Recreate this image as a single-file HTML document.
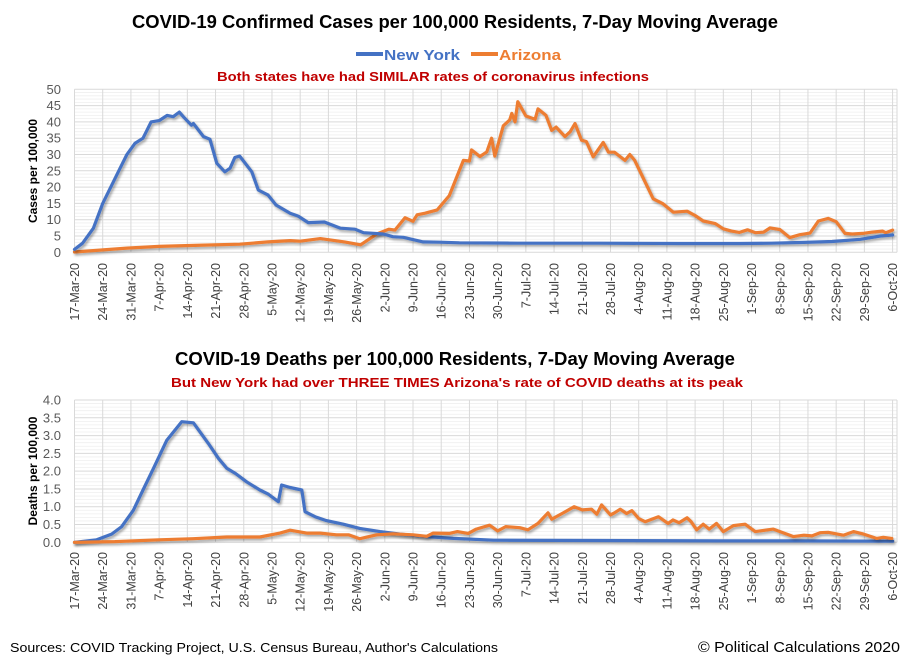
<!DOCTYPE html>
<html><head><meta charset="utf-8"><style>
html,body{margin:0;padding:0;background:#fff;}
svg{display:block;font-family:"Liberation Sans",sans-serif;}
</style></head><body>
<svg id="chart" width="910" height="661" viewBox="0 0 910 661" xmlns="http://www.w3.org/2000/svg">
<defs><filter id="sh" x="-5%" y="-5%" width="110%" height="120%"><feDropShadow dx="1.5" dy="2" stdDeviation="1.2" flood-color="#000" flood-opacity="0.35"/></filter></defs>
<text x="455" y="28" text-anchor="middle" font-size="18" font-weight="bold" fill="#000" textLength="646" lengthAdjust="spacingAndGlyphs">COVID-19 Confirmed Cases per 100,000 Residents, 7-Day Moving Average</text>
<g>
<line x1="356" y1="54" x2="383" y2="54" stroke="#4472C4" stroke-width="4"/>
<text x="384" y="60" font-size="15" font-weight="bold" fill="#4472C4" textLength="76" lengthAdjust="spacingAndGlyphs">New York</text>
<line x1="471" y1="54" x2="498" y2="54" stroke="#ED7D31" stroke-width="4"/>
<text x="499" y="60" font-size="15" font-weight="bold" fill="#ED7D31" textLength="62" lengthAdjust="spacingAndGlyphs">Arizona</text>
</g>
<text x="433" y="81" text-anchor="middle" font-size="13" font-weight="bold" fill="#C00000" textLength="432" lengthAdjust="spacingAndGlyphs">Both states have had SIMILAR rates of coronavirus infections</text>
<text x="455" y="365" text-anchor="middle" font-size="18" font-weight="bold" fill="#000" textLength="560" lengthAdjust="spacingAndGlyphs">COVID-19 Deaths per 100,000 Residents, 7-Day Moving Average</text>
<text x="457" y="387" text-anchor="middle" font-size="13" font-weight="bold" fill="#C00000" textLength="572" lengthAdjust="spacingAndGlyphs">But New York had over THREE TIMES Arizona's rate of COVID deaths at its peak</text>
<text transform="translate(37,171) rotate(-90)" text-anchor="middle" font-size="12" font-weight="bold" fill="#000">Cases per 100,000</text>
<text transform="translate(37,471) rotate(-90)" text-anchor="middle" font-size="12" font-weight="bold" fill="#000">Deaths per 100,000</text>
<text x="10" y="652" font-size="13" fill="#000" textLength="488" lengthAdjust="spacingAndGlyphs">Sources: COVID Tracking Project, U.S. Census Bureau, Author's Calculations</text>
<text x="900" y="652" text-anchor="end" font-size="15" fill="#000" textLength="202" lengthAdjust="spacingAndGlyphs">© Political Calculations 2020</text>
<g id="top"></g>
<g id="bot"></g>
</svg>
<script>
// x tick labels (every 7 days from 17-Mar-20)
const dateLabels = ["17-Mar-20","24-Mar-20","31-Mar-20","7-Apr-20","14-Apr-20","21-Apr-20","28-Apr-20","5-May-20","12-May-20","19-May-20","26-May-20","2-Jun-20","9-Jun-20","16-Jun-20","23-Jun-20","30-Jun-20","7-Jul-20","14-Jul-20","21-Jul-20","28-Jul-20","4-Aug-20","11-Aug-20","18-Aug-20","25-Aug-20","1-Sep-20","8-Sep-20","15-Sep-20","22-Sep-20","29-Sep-20","6-Oct-20"];
const casesTicks = [0,5,10,15,20,25,30,35,40,45,50];
const deathsTicks = ["0.0","0.5","1.0","1.5","2.0","2.5","3.0","3.5","4.0"];
// days since 17-Mar-20
const nyCasesDays = [0,2,4.7,7,11,13,15,17,19,21,23,24.5,26,27,29,29.5,32,33.6,35.3,37.3,38.6,39.8,41,44,45.6,48,50,53.5,55.5,58,62,66,69.6,71.7,76.6,79,81.6,86.5,90.6,95.5,110,130,150,165,173,180,188,195,200,203];
const nyCasesVals = [0.9,2.8,7.4,15,25,30,33.4,35,40,40.4,42,41.6,43,41.6,39,39.5,35.5,34.7,27.3,24.7,25.8,29.1,29.5,24.7,19.1,17.6,14.5,12,11.1,9.1,9.3,7.4,7.1,6,5.6,4.8,4.6,3.2,3.1,2.9,2.8,2.8,2.7,2.7,2.8,3.0,3.3,4.0,5.0,5.3];
const azCasesDays = [0,13,21,32,41,48,53.5,56,61,67,71,75,78,79.5,82,84,85,87,90,93,96.5,98,98.5,100.6,102.3,103.5,104.3,106.4,108,108.5,109.3,110,112,114.3,115,117,118.4,119.5,121.7,123,124.2,125.8,127,128.7,131.2,132.5,134,136.6,137.8,139,141,143.6,146,148.6,152,154,156,159,161,163,165,167,169,171,172.6,175,177.5,180,182.5,184.6,187,189,191.2,193,195.6,198,200.5,201.3,203];
const azCasesVals = [0.1,1.3,1.8,2.2,2.5,3.2,3.6,3.4,4.2,3.2,2.3,5.6,7.1,6.8,10.6,9.5,11.5,12,13,17.4,28.2,28,31.4,29.4,30.8,35,29.5,38.8,40.6,42.6,40,46.2,41.8,40.8,44,42,37.4,38.4,35.5,37,39.5,34.4,34,29.3,33.7,30.7,30.7,28.2,30,28.2,23.1,16.4,14.9,12.3,12.6,11.3,9.6,8.8,7.2,6.5,6.1,6.9,6.0,6.2,7.5,7.0,4.5,5.4,5.9,9.6,10.4,9.4,5.8,5.6,5.8,6.2,6.5,6.0,6.8];
const nyDeathsDays = [0,5.5,9.2,11.7,14.6,17,19.6,22.9,26.6,29.5,33.2,35.7,37.8,40,42.7,46,48,50.6,51.4,53.5,56.4,57.2,59.7,62.5,66.7,70.8,75.8,80.8,87.4,94,104,130,160,180,203];
const nyDeathsVals = [0,0.07,0.23,0.44,0.9,1.47,2.08,2.87,3.39,3.36,2.78,2.36,2.08,1.93,1.7,1.47,1.36,1.14,1.61,1.54,1.47,0.86,0.72,0.61,0.51,0.39,0.3,0.23,0.16,0.11,0.06,0.05,0.04,0.04,0.03];
const azDeathsDays = [0,10,21,29.5,37.8,46,51,53.5,57.6,61,65,68,70.8,75,79,84,87.4,89,93,95,97.7,99.7,103,105,107,110.5,112.5,115,117.5,118.4,121,124,126,128.3,129.6,130.8,133,134,135.4,137,138.3,140,141.6,144.9,147.3,148.5,150,152,153,154.4,156,157.5,159.3,161,163.5,166.4,168.9,173.4,178.4,181,183,185,187,190.8,193.3,195.8,199,200.7,202.8];
const azDeathsVals = [0,0.02,0.07,0.1,0.15,0.15,0.26,0.34,0.26,0.26,0.21,0.21,0.1,0.21,0.24,0.21,0.17,0.26,0.25,0.3,0.25,0.37,0.48,0.32,0.44,0.41,0.35,0.53,0.83,0.65,0.81,1.0,0.91,0.93,0.79,1.05,0.77,0.83,0.93,0.81,0.89,0.67,0.58,0.72,0.53,0.63,0.55,0.69,0.58,0.35,0.51,0.37,0.53,0.30,0.47,0.51,0.30,0.37,0.16,0.2,0.18,0.27,0.28,0.2,0.30,0.23,0.11,0.14,0.11];

const NS="http://www.w3.org/2000/svg";
const X0=74.5, X1=897, DAYW=4.03;
const xScale=d=>X0+d*DAYW;
function mk(tag,attrs,parent){const e=document.createElementNS(NS,tag);for(const k in attrs)e.setAttribute(k,attrs[k]);parent.appendChild(e);return e;}

function drawPanel(g,yTop,yBot,vmax,minorStep,majorStep,tickLabels,series,labelTop,prefix){
  const yScale=v=>yBot-(v/vmax)*(yBot-yTop);
  const grid=mk('g',{},g);
  
  
  const nMinor=Math.round(vmax/minorStep);
  for(let i=0;i<=nMinor;i++){
    const v=i*minorStep;const y=yScale(v);
    const major=Math.abs(v/majorStep-Math.round(v/majorStep))<1e-6;
    mk('line',{x1:X0,x2:X1,y1:y,y2:y,stroke:major?'#d9d9d9':'#efefef','stroke-width':major?1:0.8},grid);
  }
  dateLabels.forEach((lab,i)=>{
    const x=xScale(i*7);
    mk('line',{x1:x,x2:x,y1:yTop,y2:yBot,stroke:'#d9d9d9','stroke-width':1},grid);
    const t=mk('text',{transform:`translate(${x+4.5},${labelTop}) rotate(-90)`,'text-anchor':'end','font-size':12.5,fill:'#404040'},g);
    t.textContent=lab;
    
    
  });
  mk('line',{x1:X1,x2:X1,y1:yTop,y2:yBot,stroke:'#d9d9d9'},grid);
  tickLabels.forEach((lab,i)=>{
    const v=i*majorStep;
    const t=mk('text',{x:61,y:yScale(v)+4.5,'text-anchor':'end','font-size':13,fill:'#595959'},g);
    t.textContent=lab;
    
    
  });
  series.forEach(s=>{
    const d=s.days.map((dd,i)=>(i?'L':'M')+xScale(dd).toFixed(1)+','+yScale(s.vals[i]).toFixed(1)).join(' ');
    const p=mk('path',{d:d,fill:'none',stroke:s.color,'stroke-width':3.2,'stroke-linejoin':'round','stroke-linecap':'round',filter:'url(#sh)'},g);
    
    
  });
}
drawPanel(document.getElementById('top'),89.3,252.3,50,1,5,casesTicks.map(String),
  [{name:'arizona',days:azCasesDays,vals:azCasesVals,color:'#ED7D31'},{name:'new-york',days:nyCasesDays,vals:nyCasesVals,color:'#4472C4'}],263,'cases');
drawPanel(document.getElementById('bot'),400,542.3,4,0.1,0.5,deathsTicks,
  [{name:'new-york',days:nyDeathsDays,vals:nyDeathsVals,color:'#4472C4'},{name:'arizona',days:azDeathsDays,vals:azDeathsVals,color:'#ED7D31'}],552,'deaths');
</script>
</body></html>
